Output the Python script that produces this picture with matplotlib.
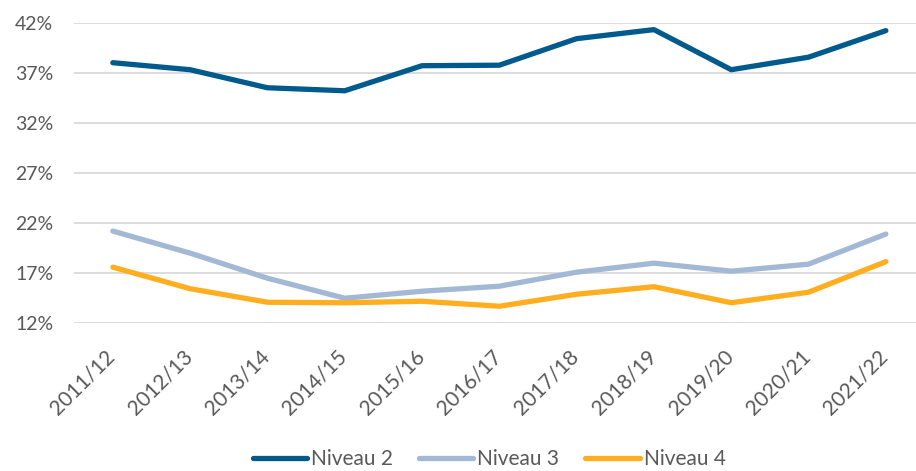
import matplotlib.pyplot as plt
import matplotlib.transforms as mtransforms
from matplotlib.ticker import FixedLocator

plt.rcParams['font.family'] = ['Lato', 'DejaVu Sans']

years = ['2011/12', '2012/13', '2013/14', '2014/15', '2015/16', '2016/17',
         '2017/18', '2018/19', '2019/20', '2020/21', '2021/22']
niveau_2 = [38.0, 37.3, 35.5, 35.2, 37.7, 37.75, 40.4, 41.3, 37.3, 38.55, 41.2]
niveau_3 = [21.2, 19.0, 16.5, 14.5, 15.2, 15.7, 17.1, 18.0, 17.2, 17.9, 20.9]
niveau_4 = [17.6, 15.45, 14.1, 14.05, 14.2, 13.7, 14.9, 15.65, 14.05, 15.1, 18.15]
y_ticks = [12, 17, 22, 27, 32, 37, 42]

text_color = '#595959'

fig = plt.figure(figsize=(9.16, 4.71), dpi=100)
ax = fig.add_axes([0.081, 0.3136, 0.919, 0.6384])

x = range(len(years))
ax.plot(x, niveau_2, color='#005A8C', lw=3.8, solid_capstyle='round', label='Niveau 2', zorder=3)
ax.plot(x, niveau_3, color='#A2B8D4', lw=3.8, solid_capstyle='round', label='Niveau 3', zorder=3)
ax.plot(x, niveau_4, color='#FFAE1F', lw=3.8, solid_capstyle='round', label='Niveau 4', zorder=3)

ax.set_ylim(12, 42)
ax.set_xlim(-0.5, 10.39)
ax.yaxis.set_major_locator(FixedLocator(y_ticks))
ax.set_yticklabels([f'{v}%' for v in y_ticks])
ax.set_xticks(list(x))
ax.set_xticklabels(years, rotation=45, ha='right', rotation_mode='anchor')

ax.grid(axis='y', color='#D9D9D9', lw=1.3)
ax.set_axisbelow(True)
for s in ax.spines.values():
    s.set_visible(False)
ax.tick_params(axis='y', length=0, colors=text_color, labelsize=14, pad=15)
ax.tick_params(axis='x', length=0, colors=text_color, labelsize=15, pad=8)

# nudge the slanted year labels so their ends sit under each point
shift = mtransforms.ScaledTranslation(-8 / 100, -12 / 100, fig.dpi_scale_trans)
for lbl in ax.get_xticklabels():
    lbl.set_transform(lbl.get_transform() + shift)

fig.legend(loc='center', bbox_to_anchor=(0.534, 0.025), ncol=3, frameon=False,
           fontsize=15, labelcolor=text_color, handlelength=2.6, handletextpad=0.2,
           columnspacing=1.25)

fig.savefig('out.png', dpi=100)
